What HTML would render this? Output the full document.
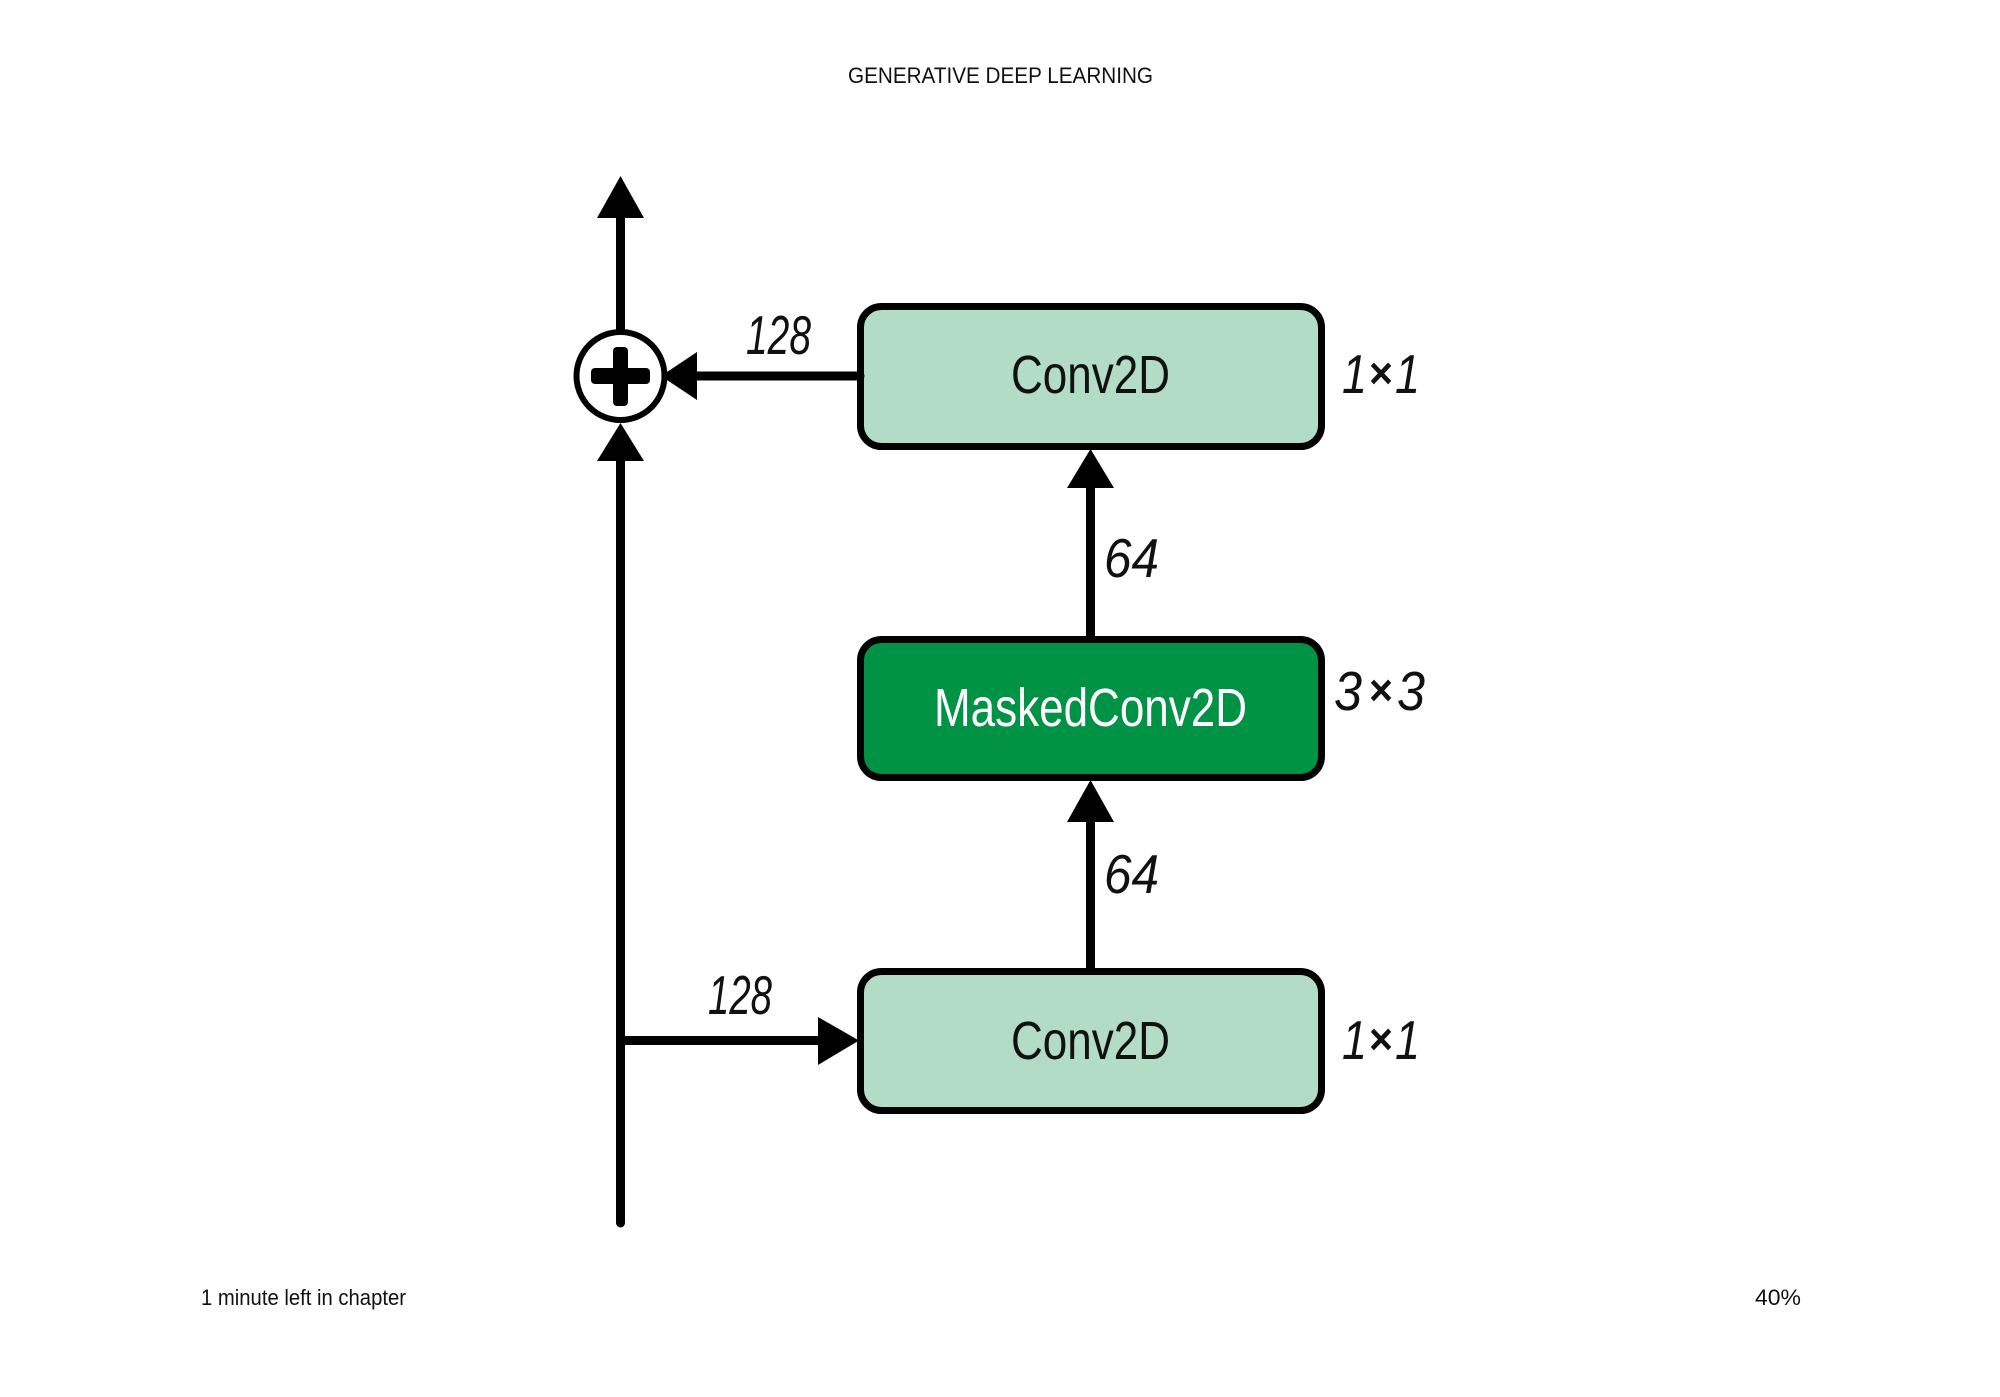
<!DOCTYPE html>
<html><head><meta charset="utf-8"><style>
html,body{margin:0;padding:0;background:#fff;width:2000px;height:1397px;overflow:hidden}
svg{display:block}
text{font-family:"Liberation Sans",sans-serif;fill:#111}
.u{font-size:22px}
.l{font-size:54px;font-style:normal}
.i{font-size:55px;font-style:italic}
.x{font-size:44px;font-weight:bold}
</style></head><body>
<svg width="2000" height="1397" viewBox="0 0 2000 1397" xmlns="http://www.w3.org/2000/svg">
<rect width="2000" height="1397" fill="#fff"/>
<text class="u" x="848" y="83" textLength="305" lengthAdjust="spacingAndGlyphs">GENERATIVE DEEP LEARNING</text>
<text class="u" x="201" y="1305" textLength="205" lengthAdjust="spacingAndGlyphs">1 minute left in chapter</text>
<text class="u" x="1755" y="1305" textLength="46" lengthAdjust="spacingAndGlyphs">40%</text>

<g stroke="#000" stroke-width="9" stroke-linecap="round" fill="none">
<line x1="620.5" y1="210" x2="620.5" y2="335"/>
<line x1="620.5" y1="455" x2="620.5" y2="1223"/>
<line x1="690" y1="376" x2="858" y2="376"/>
<line x1="620.5" y1="1040.5" x2="825" y2="1040.5"/>
<line x1="1090.5" y1="480" x2="1090.5" y2="634"/>
<line x1="1090.5" y1="815" x2="1090.5" y2="968"/>
</g>

<g stroke="#000" stroke-width="7">
<rect x="860.5" y="306.5" width="461" height="140" rx="21" fill="#b2dcc6"/>
<rect x="860.5" y="639.5" width="461" height="138" rx="21" fill="#009245"/>
<rect x="860.5" y="971.5" width="461" height="139" rx="21" fill="#b2dcc6"/>
</g>
<line x1="1090.5" y1="625" x2="1090.5" y2="636" stroke="#000" stroke-width="9" stroke-linecap="round"/>
<line x1="1090.5" y1="960" x2="1090.5" y2="970" stroke="#000" stroke-width="9" stroke-linecap="round"/>
<line x1="850" y1="376" x2="860" y2="376" stroke="#000" stroke-width="9" stroke-linecap="round"/>

<circle cx="620.5" cy="376" r="44" fill="#fff" stroke="#000" stroke-width="6"/>
<g fill="#000">
<rect x="591" y="368" width="59" height="16" rx="4"/>
<rect x="613" y="347" width="15" height="59" rx="4"/>
<polygon points="620.5,176 597,218 644,218"/>
<polygon points="620.5,423 597,461 644,461"/>
<polygon points="661,376 697,352 697,400"/>
<polygon points="1090.5,449 1067,488 1114,488"/>
<polygon points="1090.5,780 1067,822 1114,822"/>
<polygon points="859,1040.5 818,1017 818,1065"/>
</g>

<text class="l" x="1011" y="393" textLength="159" lengthAdjust="spacingAndGlyphs">Conv2D</text>
<text class="l" x="934" y="726" textLength="313" lengthAdjust="spacingAndGlyphs" style="fill:#fff">MaskedConv2D</text>
<text class="l" x="1011" y="1059" textLength="159" lengthAdjust="spacingAndGlyphs">Conv2D</text>

<text class="i" x="746" y="354" textLength="65" lengthAdjust="spacingAndGlyphs">128</text>
<text class="i" x="708" y="1014" textLength="64" lengthAdjust="spacingAndGlyphs">128</text>
<text class="i" x="1104" y="577" textLength="55" lengthAdjust="spacingAndGlyphs">64</text>
<text class="i" x="1104" y="893" textLength="55" lengthAdjust="spacingAndGlyphs">64</text>

<text class="i" x="1342" y="393" textLength="25" lengthAdjust="spacingAndGlyphs">1</text>
<text class="x" x="1369" y="388" textLength="24" lengthAdjust="spacingAndGlyphs">×</text>
<text class="i" x="1395" y="393" textLength="25" lengthAdjust="spacingAndGlyphs">1</text>

<text class="i" x="1334" y="710" textLength="28" lengthAdjust="spacingAndGlyphs">3</text>
<text class="x" x="1369" y="705" textLength="24" lengthAdjust="spacingAndGlyphs">×</text>
<text class="i" x="1397" y="710" textLength="28" lengthAdjust="spacingAndGlyphs">3</text>

<text class="i" x="1342" y="1059" textLength="25" lengthAdjust="spacingAndGlyphs">1</text>
<text class="x" x="1369" y="1054" textLength="24" lengthAdjust="spacingAndGlyphs">×</text>
<text class="i" x="1395" y="1059" textLength="25" lengthAdjust="spacingAndGlyphs">1</text>
</svg>
</body></html>
